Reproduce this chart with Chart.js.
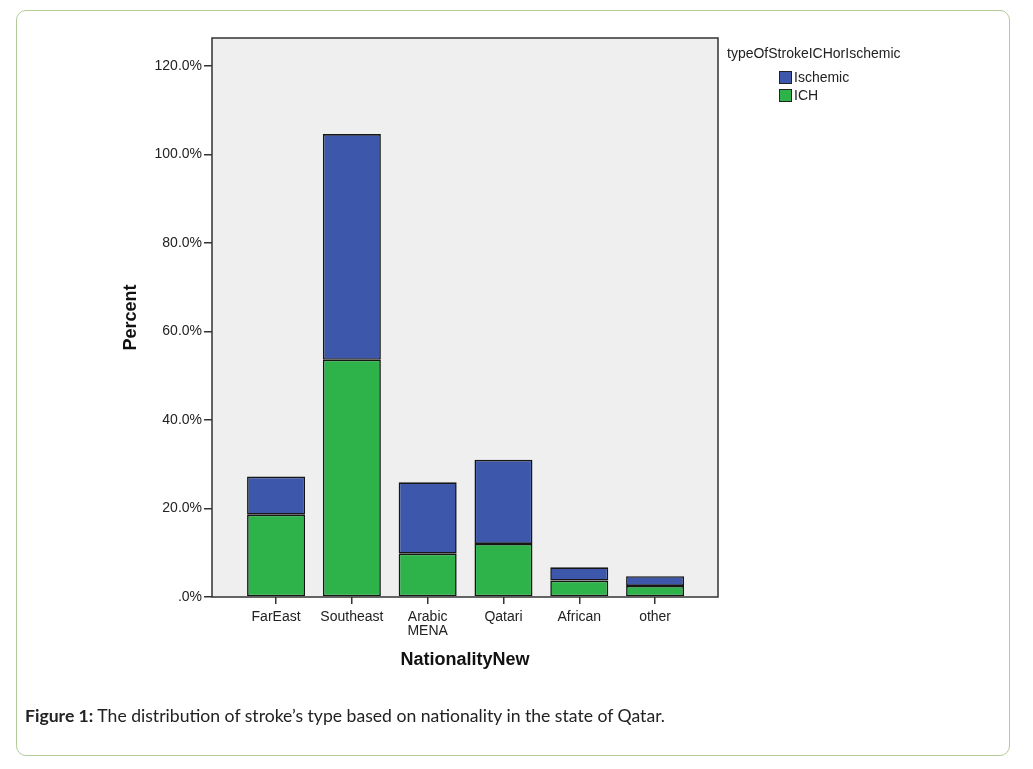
<!DOCTYPE html>
<html>
<head>
<meta charset="utf-8">
<script src="https://cdn.jsdelivr.net/npm/chart.js@4/dist/chart.umd.min.js"></script>
<style>
  body { margin: 0; background: #fff; }
  #wrap { position: relative; width: 1033px; height: 769px; }
  #frame {
    position: absolute; left: 16px; top: 10px; width: 994px; height: 746px;
    border: 1px solid #b3cb98; border-radius: 10px; box-sizing: border-box;
  }
  #chart { position: absolute; left: 0; top: 0; }
  #caption {
    position: absolute; left: 25px; top: 705px;
    font-family: Lato, "Open Sans", sans-serif; font-size: 17.6px; color: #222;
  }
</style>
</head>
<body>
<div id="wrap">
  <div id="frame"></div>
  <canvas id="chart" width="1033" height="769"></canvas>
  <div id="caption"><b>Figure 1:</b> The distribution of stroke’s type based on nationality in the state of Qatar.</div>
</div>
<script>
// Data (percent)
const categories = ['FarEast', 'Southeast', ['Arabic', 'MENA'], 'Qatari', 'African', 'other'];
const ichValues = [18.6, 53.6, 9.8, 12.0, 3.7, 2.5];
const ischemicValues = [8.6, 51.0, 16.1, 19.0, 3.0, 2.2];
const yTicks = [0, 20, 40, 60, 80, 100, 120];
const legendTitle = 'typeOfStrokeICHorIschemic';

const FONT = '"Liberation Sans", Arial, sans-serif';

// plot background + frame, and the SPSS style legend
const plotFrame = {
    id: 'plotFrame',
    beforeDatasetsDraw(chart) {
        const { ctx, chartArea: a } = chart;
        ctx.save();
        ctx.fillStyle = '#efefef';
        ctx.fillRect(a.left, a.top, a.right - a.left, a.bottom - a.top);
        ctx.restore();
    },
    afterDatasetsDraw(chart) {
        const { ctx, chartArea: a } = chart;
        ctx.save();
        ctx.strokeStyle = '#333';
        ctx.lineWidth = 1.5;
        ctx.strokeRect(a.left, a.top, a.right - a.left, a.bottom - a.top);
        ctx.restore();
    },
    afterDraw(chart) {
        const { ctx } = chart;
        ctx.save();
        ctx.font = '14px ' + FONT;
        ctx.fillStyle = '#222';
        ctx.textBaseline = 'middle';
        ctx.fillText(legendTitle, 727, 54);
        const items = chart.data.datasets.slice().reverse();
        items.forEach((ds, i) => {
            const y = 71 + i * 18;
            ctx.fillStyle = ds.backgroundColor;
            ctx.fillRect(779, y, 12, 12);
            ctx.strokeStyle = '#222';
            ctx.lineWidth = 1;
            ctx.strokeRect(779.5, y + 0.5, 12, 12);
            ctx.fillStyle = '#222';
            ctx.fillText(ds.label, 794, y + 7);
        });
        ctx.restore();
    }
};

new Chart(document.getElementById('chart'), {
    type: 'bar',
    data: {
        datasets: [
            {
                label: 'ICH',
                data: ichValues.map((v, i) => ({ x: i, y: v })),
                backgroundColor: '#2eb34b',
                borderColor: '#161616',
                borderWidth: 1.6,
                borderSkipped: false
            },
            {
                label: 'Ischemic',
                data: ischemicValues.map((v, i) => ({ x: i, y: v })),
                backgroundColor: '#3d58aa',
                borderColor: '#161616',
                borderWidth: 1.6,
                borderSkipped: false
            }
        ]
    },
    options: {
        responsive: false,
        animation: false,
        layout: { padding: { left: 116, top: 38, right: 315, bottom: 94 } },
        barPercentage: 0.765,
        categoryPercentage: 1,
        plugins: {
            legend: { display: false },
            tooltip: { enabled: false }
        },
        scales: {
            x: {
                type: 'linear',
                stacked: true,
                offset: false,
                min: -0.845,
                max: 5.83,
                afterBuildTicks: s => { s.ticks = categories.map((c, i) => ({ value: i })); },
                afterFit: s => { s.height = 78; },
                border: { display: false },
                grid: { offset: false, drawOnChartArea: false, tickLength: 7, tickColor: '#333', lineWidth: 1.5 },
                ticks: {
                    autoSkip: false,
                    maxRotation: 0,
                    padding: 6,
                    color: '#222',
                    font: { family: FONT, size: 14, lineHeight: 1.0 },
                    callback: v => categories[Math.round(v)]
                },
                title: {
                    display: true,
                    text: 'NationalityNew',
                    color: '#111',
                    font: { family: FONT, size: 18, weight: 'bold' }
                }
            },
            y: {
                stacked: true,
                min: 0,
                max: 126.3,
                afterBuildTicks: s => { s.ticks = yTicks.map(v => ({ value: v })); },
                afterFit: s => { s.width = 96; },
                border: { display: false },
                grid: { drawOnChartArea: false, tickLength: 8, tickColor: '#333', lineWidth: 1.5 },
                ticks: {
                    padding: 2,
                    color: '#222',
                    font: { family: FONT, size: 14 },
                    callback: v => v === 0 ? '.0%' : v.toFixed(1) + '%'
                },
                title: {
                    display: true,
                    text: 'Percent',
                    color: '#111',
                    font: { family: FONT, size: 18, weight: 'bold' }
                }
            }
        }
    },
    plugins: [plotFrame]
});
</script>
</body>
</html>
